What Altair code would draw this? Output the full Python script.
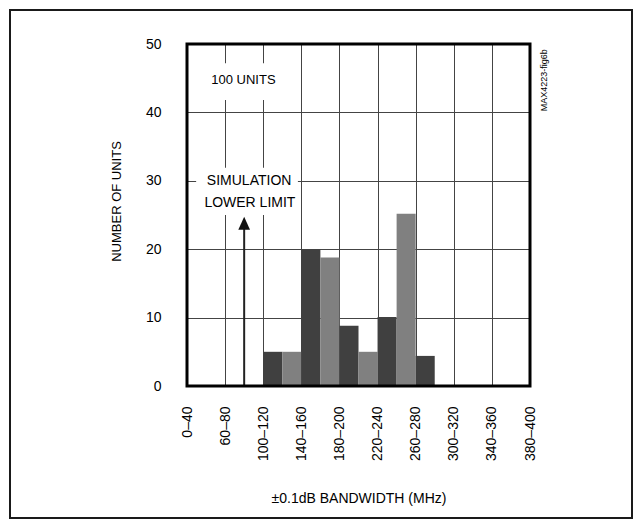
import json
import altair as alt
import pandas as pd

# ---- data ----
x_labels = ["0–40", "60–80", "100–120", "140–160", "180–200",
            "220–240", "260–280", "300–320", "340–360", "380–400"]
x_ticks = list(range(10))
y_ticks = [0, 10, 20, 30, 40, 50]

bar_start = [2.0, 2.5, 3.0, 3.5, 4.0, 4.5, 5.0, 5.5, 6.0]
bar_units = [5, 5, 20, 18.8, 8.8, 5, 10.1, 25.2, 4.4]
bar_shade = ["dark", "light", "dark", "light", "dark", "light", "dark", "light", "dark"]

# annotations (data units)
ann_units_text = ["100 UNITS"]
ann_units_x = [1.48]
ann_units_y = [44.7]

ann_sim_text = ["SIMULATION", "LOWER LIMIT"]
ann_sim_x = [1.63, 1.65]
ann_sim_y = [30.0, 26.7]

box_x = [0.6, 0.24]
box_x2 = [2.4, 2.91]
box_y = [41.8, 25.0]
box_y2 = [47.2, 31.9]

arrow_x = [1.5]
arrow_y = [0]
arrow_y2 = [23.8]
arrow_head_y = [23.8]

fig_tag = ["MAX4223-fig6b"]
fig_tag_x = [9.37]
fig_tag_y = [44.7]

W, H = 343, 342
FONT = "Liberation Sans"

bars = pd.DataFrame({
    "x": bar_start,
    "x2": [s + 0.5 for s in bar_start],
    "y": bar_units,
    "shade": bar_shade,
})

xscale = alt.Scale(domain=[0, 9], nice=False, zero=False)
yscale = alt.Scale(domain=[0, 50], nice=False)

label_expr = json.dumps(x_labels, ensure_ascii=False) + "[datum.value]"

xaxis = alt.Axis(
    values=x_ticks, labelExpr=label_expr, labelAngle=270, labelPadding=20,
    labelFontSize=14, labelColor="black", labelFlush=False, labelOverlap=False,
    ticks=False, domain=False, grid=True, gridColor="#444", gridWidth=1,
    title="±0.1dB BANDWIDTH (MHz)", titleFontSize=14, titleFontWeight="normal",
    titleColor="black", titleY=112, titleBaseline="middle",
)
yaxis = alt.Axis(
    values=y_ticks, labelPadding=26, labelFontSize=14, labelColor="black",
    labelFlush=False, ticks=False, domain=False, grid=True, gridColor="#444",
    gridWidth=1, title="NUMBER OF UNITS", titleFontSize=13,
    titleFontWeight="normal", titleColor="black", titleX=-71, titleY=157,
    titleAngle=270, titleAlign="center", titleBaseline="middle",
)


def X(field="x"):
    return alt.X(f"{field}:Q", scale=xscale, axis=xaxis)


def Y(field="y"):
    return alt.Y(f"{field}:Q", scale=yscale, axis=yaxis)


bar_layer = alt.Chart(bars).mark_rect().encode(
    x=X(), x2="x2:Q", y=Y(), y2=alt.datum(0),
    color=alt.Color("shade:N", scale=alt.Scale(domain=["dark", "light"],
                                               range=["#404040", "#808080"]),
                    legend=None),
)

boxes = alt.Chart(pd.DataFrame({"x": box_x, "x2": box_x2, "y": box_y, "y2": box_y2})).mark_rect(
    fill="white").encode(x=X(), x2="x2:Q", y=Y(), y2="y2:Q")

units_text = alt.Chart(pd.DataFrame({"x": ann_units_x, "y": ann_units_y, "t": ann_units_text})).mark_text(
    font=FONT, fontSize=13, color="black", align="center", baseline="middle").encode(
    x=X(), y=Y(), text="t:N")

sim_text = alt.Chart(pd.DataFrame({"x": ann_sim_x, "y": ann_sim_y, "t": ann_sim_text})).mark_text(
    font=FONT, fontSize=14, color="black", align="center", baseline="middle").encode(
    x=X(), y=Y(), text="t:N")

arrow_df = pd.DataFrame({"x": arrow_x, "y": arrow_y, "y2": arrow_y2, "h": arrow_head_y})
arrow_shaft = alt.Chart(arrow_df).mark_rule(color="#222", strokeWidth=2).encode(
    x=X(), y=Y(), y2="y2:Q")
arrow_head = alt.Chart(arrow_df).mark_point(
    shape="M0,-1L-0.9,1L0.9,1Z", filled=True, fill="#111", stroke="#111",
    strokeWidth=0, size=169, opacity=1).encode(x=X(), y=Y("h"))

tag = alt.Chart(pd.DataFrame({"x": fig_tag_x, "y": fig_tag_y, "t": fig_tag})).mark_text(
    font=FONT, fontSize=9, color="black", angle=270, align="center", baseline="middle").encode(
    x=X(), y=Y(), text="t:N")

frame = alt.Chart(pd.DataFrame({"x": [0], "x2": [9], "y": [0], "y2": [50]})).mark_rect(
    fillOpacity=0, stroke="black", strokeWidth=3).encode(x=X(), x2="x2:Q", y=Y(), y2="y2:Q")

outer = alt.Chart(pd.DataFrame({"k": [0]})).mark_rect(
    fillOpacity=0, stroke="#1a1a1a", strokeWidth=2).encode(
    x=alt.value(-177), x2=alt.value(445), y=alt.value(-34), y2=alt.value(474))

chart = alt.layer(
    bar_layer, boxes, units_text, sim_text, arrow_shaft, arrow_head, tag, frame, outer
).properties(
    width=W, height=H,
    autosize=alt.AutoSizeParams(type="none"),
    padding={"left": 179, "top": 36, "right": 104, "bottom": 135},
).configure(font=FONT).configure_view(stroke="transparent")

chart.save("out.html", embed_options={"renderer": "svg", "actions": False})
